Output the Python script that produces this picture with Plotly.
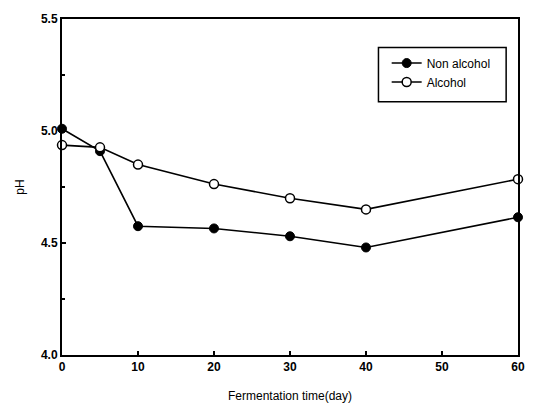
import plotly.graph_objects as go

days = [0, 5, 10, 20, 30, 40, 60]
non_alcohol = [5.01, 4.91, 4.575, 4.565, 4.53, 4.48, 4.615]
alcohol = [4.937, 4.927, 4.85, 4.763, 4.70, 4.65, 4.785]

fig = go.Figure()
fig.add_trace(go.Scatter(
    x=days, y=non_alcohol, name="Non alcohol", mode="lines+markers",
    line=dict(color="black", width=1.6),
    marker=dict(symbol="circle", size=9, color="black", line=dict(color="black", width=1)),
    cliponaxis=False,
))
fig.add_trace(go.Scatter(
    x=days, y=alcohol, name="Alcohol", mode="lines+markers",
    line=dict(color="black", width=1.6),
    marker=dict(symbol="circle", size=9, color="white", line=dict(color="black", width=1.5)),
    cliponaxis=False,
))

fig.update_layout(
    width=537, height=413,
    margin=dict(l=62, r=14, t=14, b=58),
    paper_bgcolor="white", plot_bgcolor="white",
    font=dict(family="Liberation Sans, Arial, sans-serif", color="black", size=11),
    showlegend=True,
    legend=dict(
        x=0.712, y=0.912, xanchor="left", yanchor="top",
        borderwidth=0, bgcolor="rgba(0,0,0,0)",
        font=dict(size=12), tracegroupgap=0, itemwidth=30,
    ),
    shapes=[dict(
        type="rect", xref="paper", yref="paper",
        x0=0.694, x1=0.974, y0=0.754, y1=0.915,
        line=dict(color="black", width=1.5), fillcolor="white", layer="below",
    )],
)
fig.update_xaxes(
    range=[0, 60], tickvals=[0, 10, 20, 30, 40, 50, 60],
    showline=True, linecolor="black", linewidth=2, mirror=True,
    ticks="inside", ticklen=4, tickwidth=1.5, tickcolor="black",
    showgrid=False, zeroline=False,
    tickfont=dict(size=12, family="Liberation Sans, Arial, sans-serif", weight="bold"),
    title=dict(text="Fermentation time(day)", font=dict(size=12), standoff=18),
)
fig.update_yaxes(
    range=[4.0, 5.5], tickvals=[4.0, 4.5, 5.0, 5.5], ticktext=["4.0", "4.5", "5.0", "5.5"],
    showline=True, linecolor="black", linewidth=2, mirror=True,
    ticks="inside", ticklen=4, tickwidth=1.5, tickcolor="black",
    minor=dict(tickvals=[4.25, 4.75, 5.25], ticks="inside", ticklen=3, tickcolor="black"),
    showgrid=False, zeroline=False,
    tickfont=dict(size=12, family="Liberation Sans, Arial, sans-serif", weight="bold"),
    title=dict(text="pH", font=dict(size=12), standoff=14),
)

fig.write_html("out.html")
